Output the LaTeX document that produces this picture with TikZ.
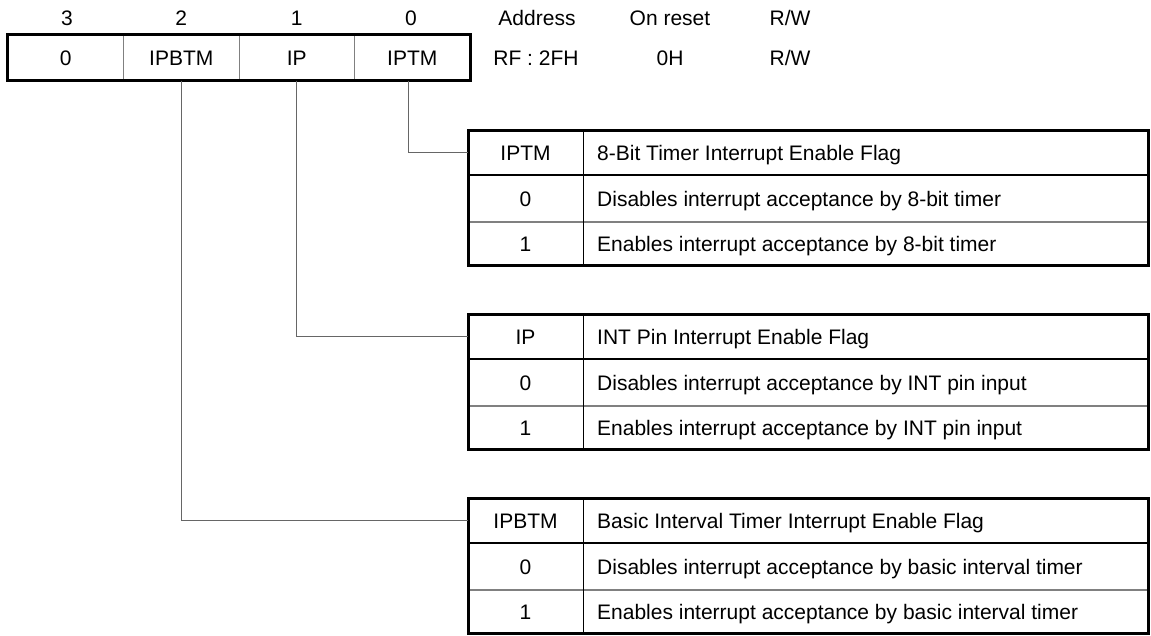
\documentclass[tikz,border=0pt]{standalone}
\usepackage{fontspec}
\setmainfont{Liberation Sans}
\tikzset{
  thickb/.style={line width=3pt},
  hdrline/.style={line width=2.4pt},
  thinline/.style={line width=1.2pt, draw=black!50},
  vline/.style={line width=1pt},
  conn/.style={line width=1pt, draw=black!60},
  txt/.style={inner sep=0pt, font=\fontsize{21}{25}\selectfont, text height=15pt, text depth=0pt},
  cell/.style={txt, minimum width=115pt, minimum height=45pt, anchor=center},
  regcell/.style={txt, minimum width=115.5pt, minimum height=45pt, anchor=center, draw=black!50, line width=1pt},
}
\newcommand{\flagtable}[6]{%
  \node[cell] (#1a) at (525.5,#2+22.5) {#3};
  \node[txt,anchor=west] (#1b) at (597,#2+22.5) {#4};
  \node[cell] (#1c) at (525.5,#2+68.5) {0};
  \node[txt,anchor=west] (#1d) at (597,#2+68.5) {#5};
  \node[cell] (#1e) at (525.5,#2+113.5) {1};
  \node[txt,anchor=west] (#1f) at (597,#2+113.5) {#6};
  \draw[thinline] (468,#2+92) -- (1148,#2+92);
  \draw[vline] (583,#2) -- (583,#2+135);
  \draw[hdrline] (468,#2+45) -- (1148,#2+45);
  \draw[thickb] (468,#2) rectangle (1148,#2+135);
}
\begin{document}
\begin{tikzpicture}[x=1pt,y=-1pt]
\useasboundingbox (0,0) rectangle (1151,635);
% register
\node[regcell] (r3) at (65.75,57.5) {0};
\node[regcell] (r2) at (181.25,57.5) {IPBTM};
\node[regcell] (r1) at (296.75,57.5) {IP};
\node[regcell] (r0) at (412.25,57.5) {IPTM};
\draw[thickb] (r3.north west) rectangle (r0.south east);
% bit numbers
\node[txt] (b3) at (67,18) {3};
\node[txt] (b2) at (181.25,18) {2};
\node[txt] (b1) at (296.75,18) {1};
\node[txt] (b0) at (411,18) {0};
% address etc
\node[txt] (addrh) at (537,18) {Address};
\node[txt] (rsth) at (670,18) {On reset};
\node[txt] (rwh) at (790,18) {R/W};
\node[txt] (addr) at (536,57.5) {RF : 2FH};
\node[txt] (rst) at (670,57.5) {0H};
\node[txt] (rw) at (790,57.5) {R/W};
% tables
\flagtable{ta}{130}{IPTM}{8-Bit Timer Interrupt Enable Flag}{Disables interrupt acceptance by 8-bit timer}{Enables interrupt acceptance by 8-bit timer}
\flagtable{tb}{314}{IP}{INT Pin Interrupt Enable Flag}{Disables interrupt acceptance by INT pin input}{Enables interrupt acceptance by INT pin input}
\flagtable{tc}{498}{IPBTM}{Basic Interval Timer Interrupt Enable Flag}{Disables interrupt acceptance by basic interval timer}{Enables interrupt acceptance by basic interval timer}
% connectors
\draw[conn] ([xshift=-4pt]r0.south) |- (taa.west);
\draw[conn] (r1.south) |- (tba.west);
\draw[conn] (r2.south) |- (tca.west);
\end{tikzpicture}
\end{document}
